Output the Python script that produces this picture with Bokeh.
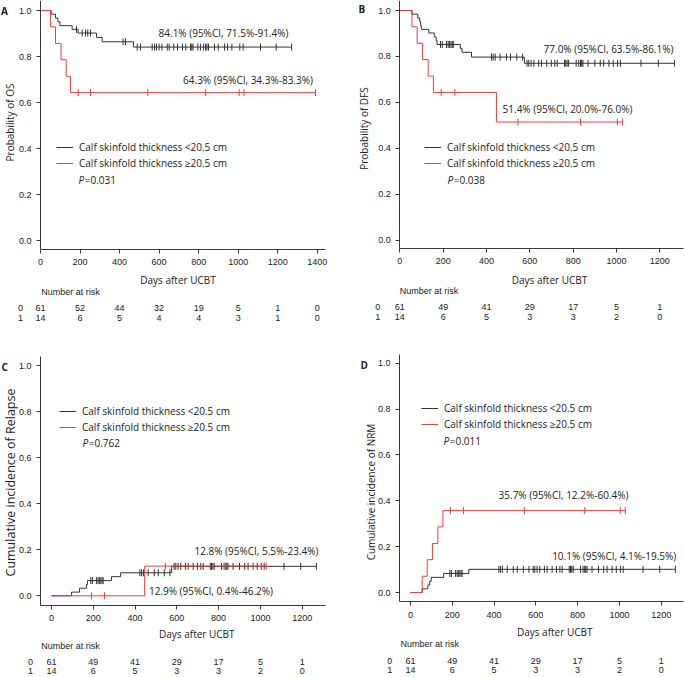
import numpy as np
from bokeh.plotting import figure
from bokeh.models import (Range1d, FixedTicker, PrintfTickFormatter, Label, LabelSet,
                          ColumnDataSource, Legend, LegendItem)
from bokeh.core.properties import value
from bokeh.layouts import row, column
from bokeh.embed import file_html
from bokeh.resources import INLINE

# ---------------- data ----------------
GROUPS = ["Calf skinfold thickness <20.5 cm", "Calf skinfold thickness \u226520.5 cm"]

# A: overall survival
os_low_t = [0, 54, 76, 88, 98, 160, 190, 283, 312, 470]
os_low_s = [1.0, 0.984, 0.967, 0.951, 0.934, 0.918, 0.902, 0.883, 0.864, 0.841]
os_low_cens = [182, 211, 228, 239, 253, 418, 430, 489, 506, 565, 577, 587, 600, 614, 641,
               651, 674, 693, 718, 735, 759, 765, 771, 796, 809, 824, 835, 842, 850, 880,
               899, 931, 946, 968, 1008, 1025, 1113, 1192, 1270]
os_high_t = [0, 51, 76, 104, 130, 152]
os_high_s = [1.0, 0.929, 0.857, 0.786, 0.714, 0.643]
os_high_cens = [191, 253, 543, 835, 1005, 1029, 1391]

# B: disease-free survival
dfs_low_t = [0, 56, 83, 92, 96, 99, 134, 159, 168, 172, 279, 287, 331, 575]
dfs_low_s = [1.0, 0.984, 0.967, 0.951, 0.934, 0.918, 0.902, 0.885, 0.869, 0.852, 0.835,
             0.818, 0.797, 0.770]
dfs_high_t = [0, 56, 80, 105, 131, 155, 446]
dfs_high_s = [1.0, 0.929, 0.857, 0.786, 0.714, 0.643, 0.514]

# censoring times shared by B, C, D
cens_low = [188, 196, 215, 223, 229, 236, 242, 247, 423, 431, 440, 463, 492, 511, 540, 567,
            587, 595, 606, 619, 641, 654, 678, 699, 715, 726, 760, 766, 772, 779, 814, 826,
            834, 839, 845, 869, 900, 925, 941, 965, 985, 1005, 1018, 1113, 1193, 1268]
cens_high = [191, 254, 545, 834, 1004, 1028]

# C: cumulative incidence of relapse
rel_low_t = [0, 96, 134, 168, 172, 287, 331, 575]
rel_low_c = [0.0, 0.016, 0.033, 0.049, 0.066, 0.083, 0.100, 0.128]
rel_high_t = [0, 446]
rel_high_c = [0.0, 0.129]

# D: cumulative incidence of NRM
nrm_low_t = [0, 56, 83, 92, 99, 159, 279]
nrm_low_c = [0.0, 0.016, 0.033, 0.049, 0.066, 0.083, 0.101]
nrm_high_t = [0, 56, 80, 105, 131, 155]
nrm_high_c = [0.0, 0.071, 0.143, 0.214, 0.286, 0.357]

# number at risk
ticks_A = [0, 200, 400, 600, 800, 1000, 1200, 1400]
risk_A_low = [61, 52, 44, 32, 19, 5, 1, 0]
risk_A_high = [14, 6, 5, 4, 4, 3, 1, 0]
ticks_BCD = [0, 200, 400, 600, 800, 1000, 1200]
risk_low = [61, 49, 41, 29, 17, 5, 1]
risk_high = [14, 6, 5, 3, 3, 2, 0]

y_ticks = [0.0, 0.2, 0.4, 0.6, 0.8, 1.0]

# ---------------- style ----------------
FONT = "Open Sans"
TFONT = "Liberation Sans"
INK = "#222222"
AXIS = "#3a3a3a"
BLACK = "#333333"
RED = "#f03c3c"


def panel(w, h, ox, oy, x0px, xs, y0px, ys, xb, yb, xticks):
    """ox, oy: position of the figure in the page; x0px/y0px: page position of
    day 0 / value 0; xs/ys: pixels per unit; xb/yb: extent of the axis lines."""
    def X(px):
        return (px - x0px) / xs

    def Y(py):
        return (y0px - py) / ys

    p = figure(width=w, height=h, output_backend="svg", toolbar_location=None,
               x_range=Range1d(X(ox), X(ox + w)), y_range=Range1d(Y(oy + h), Y(oy)),
               min_border=0)
    p.outline_line_color = None
    p.grid.visible = False
    p.xaxis.ticker = FixedTicker(ticks=xticks)
    p.yaxis.ticker = FixedTicker(ticks=y_ticks)
    p.yaxis.formatter = PrintfTickFormatter(format="%.1f")
    p.xaxis.fixed_location = yb[0]
    p.xaxis.bounds = xb
    p.yaxis.fixed_location = xb[0]
    p.yaxis.bounds = yb
    for ax in (p.xaxis, p.yaxis):
        ax.axis_line_color = AXIS
        ax.major_tick_line_color = AXIS
        ax.minor_tick_line_color = None
        ax.major_tick_in = 0
        ax.major_tick_out = 4
        ax.major_label_text_font = TFONT
        ax.major_label_text_font_size = "9px"
        ax.major_label_text_color = INK
    p.xaxis.major_label_standoff = 6
    p.yaxis.major_label_standoff = 5
    return p, X, Y


def txt(p, x, y, text, size="10px", font=FONT, align="left", baseline="middle",
        angle=0.0, style="normal", x_offset=0):
    p.add_layout(Label(x=x, y=y, text=text, text_font=font, text_font_size=size,
                       text_align=align, text_baseline=baseline, angle=angle,
                       text_color=INK, text_font_style=style, x_offset=x_offset))


def curve(p, t, s, cens, color):
    xs = list(t) + [max(cens)]
    ys = list(s) + [s[-1]]
    r = p.step(xs, ys, mode="after", line_color=color, line_width=1)
    idx = np.searchsorted(np.array(t), np.array(cens), side="right") - 1
    cy = [s[i] for i in idx]
    p.scatter(cens, cy, marker="dash", angle=np.pi / 2, size=7, line_color=color,
              line_width=1)
    return r


def legend(p, r_low, r_high, dx, dy):
    lg = Legend(items=[LegendItem(label=GROUPS[0], renderers=[r_low]),
                       LegendItem(label=GROUPS[1], renderers=[r_high])],
                location=(dx, dy), border_line_color=None, background_fill_alpha=0,
                label_text_font=FONT, label_text_font_size="10px", label_text_color=INK,
                glyph_width=17, glyph_height=16, label_height=16, label_standoff=6,
                spacing=0, padding=0, margin=0)
    p.add_layout(lg)


def risk(p, X, Y, ticks, low, high, nar, rowx, row0, row1):
    txt(p, X(nar[0]), Y(nar[1]), "Number at risk", size="9px", font=TFONT)
    txt(p, X(rowx), Y(row0), "0", size="9px", font=TFONT, align="center")
    txt(p, X(rowx), Y(row1), "1", size="9px", font=TFONT, align="center")
    src = ColumnDataSource(dict(x=list(ticks) + list(ticks),
                                y=[Y(row0)] * len(ticks) + [Y(row1)] * len(ticks),
                                text=[str(v) for v in low] + [str(v) for v in high]))
    p.add_layout(LabelSet(x="x", y="y", text="text", source=src, text_align="center",
                          text_baseline="middle", text_font=value(TFONT),
                          text_font_size=value("9px"), text_color=INK))


def pvalue(p, x, y, pv):
    txt(p, x, y, "P", style="italic")
    txt(p, x, y, "=" + pv, x_offset=6.3)


# ---------------- panel A ----------------
pA, XA, YA = panel(340, 330, 0, 0, 40, 0.1977, 240, 230, (0, 1441.6), (-0.039, 1.043),
                   ticks_A)
rl = curve(pA, os_low_t, os_low_s, os_low_cens, BLACK)
rh = curve(pA, os_high_t, os_high_s, os_high_cens, RED)
legend(pA, rl, rh, 56, 159)
pvalue(pA, XA(78), YA(179), "0.031")
txt(pA, XA(223), YA(32), "84.1% (95%CI, 71.5%-91.4%)", align="center")
txt(pA, XA(247.5), YA(79), "64.3% (95%CI, 34.3%-83.3%)", align="center")
txt(pA, XA(9.5), YA(122), "Probability of OS", align="center", baseline="alphabetic",
    angle=np.pi / 2)
txt(pA, XA(0.5), YA(10), "A", style="bold")
txt(pA, XA(177.5), YA(279), "Days after UCBT", align="center")
risk(pA, XA, YA, ticks_A, risk_A_low, risk_A_high, (40.7, 291), 20, 307, 317)

# ---------------- panel B ----------------
pB, XB, YB = panel(345, 330, 340, 0, 399.3, 0.2167, 239.5, 229.5, (0, 1309),
                   (-0.037, 1.043), ticks_BCD)
rl = curve(pB, dfs_low_t, dfs_low_s, cens_low, BLACK)
rh = curve(pB, dfs_high_t, dfs_high_s, cens_high, RED)
legend(pB, rl, rh, 84, 159)
pvalue(pB, XB(447), YB(179), "0.038")
txt(pB, XB(608), YB(48), "77.0% (95%CI, 63.5%-86.1%)", align="center")
txt(pB, XB(567), YB(108), "51.4% (95%CI, 20.0%-76.0%)", align="center")
txt(pB, XB(363.5), YB(128), "Probability of DFS", align="center", baseline="alphabetic",
    angle=np.pi / 2)
txt(pB, XB(358), YB(8), "B", style="bold")
txt(pB, XB(549), YB(279.3), "Days after UCBT", align="center")
risk(pB, XB, YB, ticks_BCD, risk_low, risk_high, (399.3, 290.7), 377.3, 306.7, 316.7)

# ---------------- panel C ----------------
pC, XC, YC = panel(340, 347, 0, 330, 51, 0.2089, 595.3, 230.3, (-52.7, 1311.6),
                   (-0.04, 1.04), ticks_BCD)
rl = curve(pC, rel_low_t, rel_low_c, cens_low, BLACK)
rh = curve(pC, rel_high_t, rel_high_c, cens_high, RED)
legend(pC, rl, rh, 59, 242)
pvalue(pC, XC(82), YC(442), "0.762")
txt(pC, XC(256), YC(550), "12.8% (95%CI, 5.5%-23.4%)", align="center")
txt(pC, XC(210.5), YC(590.7), "12.9% (95%CI, 0.4%-46.2%)", align="center")
txt(pC, XC(9.5), YC(482), "Cumulative incidence of Relapse", size="12.5px",
    align="center", baseline="alphabetic", angle=np.pi / 2)
txt(pC, XC(1), YC(366), "C", style="bold")
txt(pC, XC(196.3), YC(633), "Days after UCBT", align="center")
risk(pC, XC, YC, ticks_BCD, risk_low, risk_high, (40.7, 645.5), 30, 661.5, 670.5)

# ---------------- panel D ----------------
pD, XD, YD = panel(345, 347, 340, 330, 410, 0.2089, 592, 229.3, (-52.7, 1306.8),
                   (-0.04, 1.04), ticks_BCD)
rl = curve(pD, nrm_low_t, nrm_low_c, cens_low, BLACK)
rh = curve(pD, nrm_high_t, nrm_high_c, cens_high, RED)
legend(pD, rl, rh, 81, 244.7)
pvalue(pD, XD(443), YD(440), "0.011")
txt(pD, XD(563), YD(494.5), "35.7% (95%CI, 12.2%-60.4%)", align="center")
txt(pD, XD(613.7), YD(555.7), "10.1% (95%CI, 4.1%-19.5%)", align="center")
txt(pD, XD(370), YD(491.5), "Cumulative incidence of NRM", align="center",
    baseline="alphabetic", angle=np.pi / 2)
txt(pD, XD(360), YD(364.3), "D", style="bold")
txt(pD, XD(554.2), YD(631), "Days after UCBT", align="center")
risk(pD, XD, YD, ticks_BCD, risk_low, risk_high, (400, 643.5), 389.3, 660, 669.5)

layout = column(row(pA, pB), row(pC, pD))
open("out.html", "w").write(file_html(layout, INLINE))
